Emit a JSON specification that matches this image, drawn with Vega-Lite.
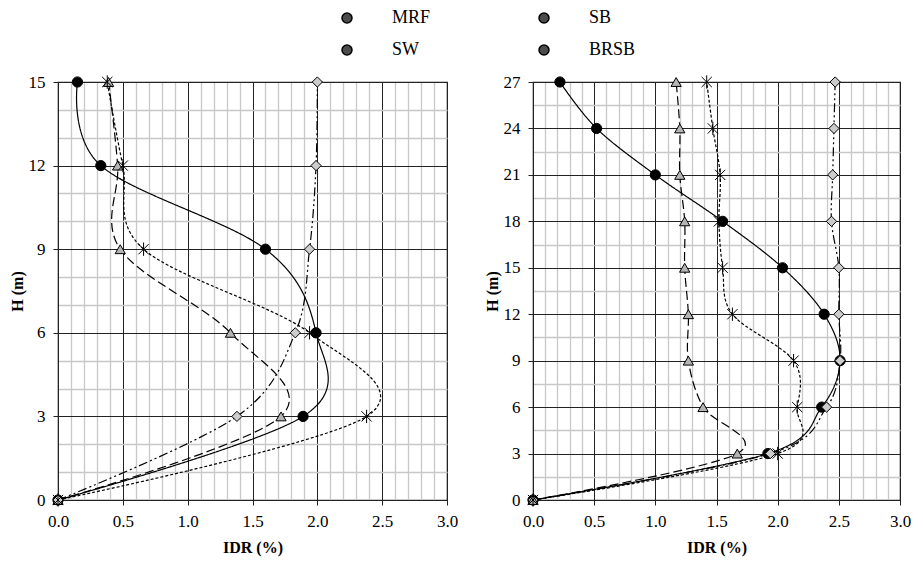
{
  "$schema": "https://vega.github.io/schema/vega-lite/v6.json",
  "padding": {"left": 8, "top": 9, "right": 5, "bottom": 5},
  "config": {
    "font": "Liberation Serif",
    "view": {"stroke": "#222", "strokeWidth": 1.2},
    "axis": {
      "labelFont": "Liberation Serif",
      "labelFontSize": 17,
      "labelColor": "black",
      "titleFont": "Liberation Serif",
      "titleFontSize": 16,
      "titleFontWeight": "bold",
      "titleColor": "black",
      "domainColor": "#222",
      "tickColor": "#222",
      "labelOverlap": false,
      "labelFlush": false,
      "labelBound": false
    },
    "legend": {"labelFont": "Liberation Serif", "labelFontSize": 18, "labelColor": "black"}
  },
  "datasets": {
    "d": [
      {"panel": "L", "series": "MRF", "h": 0, "idr": 0},
      {"panel": "L", "series": "MRF", "h": 3, "idr": 1.89},
      {"panel": "L", "series": "MRF", "h": 6, "idr": 1.99},
      {"panel": "L", "series": "MRF", "h": 9, "idr": 1.6},
      {"panel": "L", "series": "MRF", "h": 12, "idr": 0.33},
      {"panel": "L", "series": "MRF", "h": 15, "idr": 0.15},
      {"panel": "L", "series": "SB", "h": 0, "idr": 0},
      {"panel": "L", "series": "SB", "h": 3, "idr": 1.72},
      {"panel": "L", "series": "SB", "h": 6, "idr": 1.33},
      {"panel": "L", "series": "SB", "h": 9, "idr": 0.48},
      {"panel": "L", "series": "SB", "h": 12, "idr": 0.46},
      {"panel": "L", "series": "SB", "h": 15, "idr": 0.39},
      {"panel": "L", "series": "SW", "h": 0, "idr": 0},
      {"panel": "L", "series": "SW", "h": 3, "idr": 1.38},
      {"panel": "L", "series": "SW", "h": 6, "idr": 1.83},
      {"panel": "L", "series": "SW", "h": 9, "idr": 1.94},
      {"panel": "L", "series": "SW", "h": 12, "idr": 1.99},
      {"panel": "L", "series": "SW", "h": 15, "idr": 2.0},
      {"panel": "L", "series": "BRSB", "h": 0, "idr": 0},
      {"panel": "L", "series": "BRSB", "h": 3, "idr": 2.38},
      {"panel": "L", "series": "BRSB", "h": 6, "idr": 1.94},
      {"panel": "L", "series": "BRSB", "h": 9, "idr": 0.66},
      {"panel": "L", "series": "BRSB", "h": 12, "idr": 0.5},
      {"panel": "L", "series": "BRSB", "h": 15, "idr": 0.38},
      {"panel": "R", "series": "MRF", "h": 0, "idr": 0},
      {"panel": "R", "series": "MRF", "h": 3, "idr": 1.92},
      {"panel": "R", "series": "MRF", "h": 6, "idr": 2.36},
      {"panel": "R", "series": "MRF", "h": 9, "idr": 2.51},
      {"panel": "R", "series": "MRF", "h": 12, "idr": 2.38},
      {"panel": "R", "series": "MRF", "h": 15, "idr": 2.04},
      {"panel": "R", "series": "MRF", "h": 18, "idr": 1.55},
      {"panel": "R", "series": "MRF", "h": 21, "idr": 1.0},
      {"panel": "R", "series": "MRF", "h": 24, "idr": 0.52},
      {"panel": "R", "series": "MRF", "h": 27, "idr": 0.22},
      {"panel": "R", "series": "SW", "h": 0, "idr": 0},
      {"panel": "R", "series": "SW", "h": 3, "idr": 1.94},
      {"panel": "R", "series": "SW", "h": 6, "idr": 2.4},
      {"panel": "R", "series": "SW", "h": 9, "idr": 2.51},
      {"panel": "R", "series": "SW", "h": 12, "idr": 2.5},
      {"panel": "R", "series": "SW", "h": 15, "idr": 2.5},
      {"panel": "R", "series": "SW", "h": 18, "idr": 2.44},
      {"panel": "R", "series": "SW", "h": 21, "idr": 2.45},
      {"panel": "R", "series": "SW", "h": 24, "idr": 2.46},
      {"panel": "R", "series": "SW", "h": 27, "idr": 2.47},
      {"panel": "R", "series": "SB", "h": 0, "idr": 0},
      {"panel": "R", "series": "SB", "h": 3, "idr": 1.67},
      {"panel": "R", "series": "SB", "h": 6, "idr": 1.39},
      {"panel": "R", "series": "SB", "h": 9, "idr": 1.27},
      {"panel": "R", "series": "SB", "h": 12, "idr": 1.27},
      {"panel": "R", "series": "SB", "h": 15, "idr": 1.24},
      {"panel": "R", "series": "SB", "h": 18, "idr": 1.24},
      {"panel": "R", "series": "SB", "h": 21, "idr": 1.2},
      {"panel": "R", "series": "SB", "h": 24, "idr": 1.2},
      {"panel": "R", "series": "SB", "h": 27, "idr": 1.17},
      {"panel": "R", "series": "BRSB", "h": 0, "idr": 0},
      {"panel": "R", "series": "BRSB", "h": 3, "idr": 2.0},
      {"panel": "R", "series": "BRSB", "h": 6, "idr": 2.16},
      {"panel": "R", "series": "BRSB", "h": 9, "idr": 2.13},
      {"panel": "R", "series": "BRSB", "h": 12, "idr": 1.63},
      {"panel": "R", "series": "BRSB", "h": 15, "idr": 1.55},
      {"panel": "R", "series": "BRSB", "h": 18, "idr": 1.52},
      {"panel": "R", "series": "BRSB", "h": 21, "idr": 1.53},
      {"panel": "R", "series": "BRSB", "h": 24, "idr": 1.47},
      {"panel": "R", "series": "BRSB", "h": 27, "idr": 1.42}
    ]
  },
  "spacing": 24,
  "hconcat": [
    {
      "width": 389,
      "height": 418,
      "data": {"name": "d"},
      "transform": [{"filter": "datum.panel === 'L'"}],
      "encoding": {
        "x": {
          "field": "idr", "type": "quantitative",
          "scale": {"domain": [0, 3], "nice": false},
          "axis": {
            "title": "IDR (%)",
            "values": [0, 0.1, 0.2, 0.3, 0.4, 0.5, 0.6, 0.7, 0.8, 0.9, 1, 1.1, 1.2, 1.3, 1.4, 1.5, 1.6, 1.7, 1.8, 1.9, 2, 2.1, 2.2, 2.3, 2.4, 2.5, 2.6, 2.7, 2.8, 2.9, 3],
            "format": ".1f",
            "labelExpr": "abs(datum.value*2 - round(datum.value*2)) < 1e-6 ? datum.label : ''",
            "gridColor": {"condition": {"test": "abs(datum.value*2 - round(datum.value*2)) < 1e-6", "value": "#222"}, "value": "#c8c8c8"},
            "gridWidth": {"condition": {"test": "abs(datum.value*2 - round(datum.value*2)) < 1e-6", "value": 1}, "value": 1.3},
            "tickSize": {"condition": {"test": "abs(datum.value*2 - round(datum.value*2)) < 1e-6", "value": 5}, "value": 0},
            "labelPadding": 8,
            "titlePadding": 10
          }
        },
        "y": {
          "field": "h", "type": "quantitative",
          "scale": {"domain": [0, 15], "nice": false},
          "axis": {
            "title": "H (m)",
            "values": [0, 1, 2, 3, 4, 5, 6, 7, 8, 9, 10, 11, 12, 13, 14, 15],
            "labelExpr": "datum.value % 3 === 0 ? datum.label : ''",
            "gridColor": {"condition": {"test": "datum.value % 3 === 0", "value": "#222"}, "value": "#c8c8c8"},
            "gridWidth": {"condition": {"test": "datum.value % 3 === 0", "value": 1}, "value": 1.3},
            "tickSize": {"condition": {"test": "datum.value % 3 === 0", "value": 5}, "value": 0},
            "labelPadding": 8,
            "titlePadding": 3
          }
        }
      },
      "layer": [
        {
          "mark": {"type": "line", "interpolate": "cardinal", "color": "black", "strokeWidth": 1.2},
          "encoding": {
            "strokeDash": {"field": "series", "type": "nominal", "scale": {"domain": ["BRSB", "SW", "SB", "MRF"], "range": [[3, 2], [9, 3, 2, 3, 2, 3], [9, 4], [1, 0]]}, "legend": null},
            "order": {"field": "h", "type": "quantitative"}
          }
        },
        {
          "mark": {"type": "point", "filled": true, "stroke": "black", "strokeWidth": 1, "size": 105},
          "encoding": {
            "shape": {"field": "series", "type": "nominal", "scale": {"domain": ["BRSB", "SW", "SB", "MRF"], "range": ["M-1,-1L1,1M-1,1L1,-1M0,-1.3L0,1.3", "diamond", "triangle-up", "circle"]}, "legend": null},
            "fill": {"field": "series", "type": "nominal", "scale": {"domain": ["BRSB", "SW", "SB", "MRF"], "range": ["black", "#cccccc", "#b4b4b4", "black"]}, "legend": null},
            "opacity": {
              "field": "series", "type": "nominal",
              "scale": {"domain": ["MRF", "SB", "SW", "BRSB"], "range": [1, 1, 1, 1]},
              "legend": {
                "title": null, "orient": "none", "legendX": 280, "legendY": -73, "direction": "horizontal", "columns": 2, "columnPadding": 104, "rowPadding": 14, "symbolSize": 100, "labelOffset": 36, "padding": 0,
                "encode": {"symbols": {
                  "shape": {"value": {"expr": "datum.value === 'MRF' ? 'M-5.8,0L5.8,0M1.1,0L0.953,0.55L0.55,0.953L0,1.1L-0.55,0.953L-0.953,0.55L-1.1,0L-0.953,-0.55L-0.55,-0.953L0,-1.1L0.55,-0.953L0.953,-0.55Z' : datum.value === 'SB' ? 'M-5,0L-2.7,0M-1.8,0L-1,0M1,0L1.8,0M2.5,0L4.8,0M0,-0.95L0.95,0.7L-0.95,0.7Z' : datum.value === 'SW' ? 'M-5.4,0L-2.4,0M2.4,0L5.4,0M-1.1,0L0,-1.1L1.1,0L0,1.1Z' : 'M-5,0L-4.2,0M-3.5,0L-2.7,0M-2,0L-1.2,0M1.2,0L2,0M2.7,0L3.5,0M4.2,0L5,0M-1,-1L1,1M-1,1L1,-1M0,-1.2L0,1.2'"}},
                  "fill": {"value": {"expr": "datum.value === 'MRF' ? 'black' : datum.value === 'SB' ? '#b4b4b4' : datum.value === 'SW' ? 'white' : 'black'"}},
                  "stroke": {"value": "black"}, "strokeWidth": {"value": 1.3}, "strokeDash": {"value": [1, 0]}, "size": {"value": 100}
                }}
              }
            }
          }
        }
      ]
    },
    {
      "width": 367,
      "height": 418,
      "data": {"name": "d"},
      "transform": [{"filter": "datum.panel === 'R'"}],
      "encoding": {
        "x": {
          "field": "idr", "type": "quantitative",
          "scale": {"domain": [0, 3], "nice": false},
          "axis": {
            "title": "IDR (%)",
            "values": [0, 0.1, 0.2, 0.3, 0.4, 0.5, 0.6, 0.7, 0.8, 0.9, 1, 1.1, 1.2, 1.3, 1.4, 1.5, 1.6, 1.7, 1.8, 1.9, 2, 2.1, 2.2, 2.3, 2.4, 2.5, 2.6, 2.7, 2.8, 2.9, 3],
            "format": ".1f",
            "labelExpr": "abs(datum.value*2 - round(datum.value*2)) < 1e-6 ? datum.label : ''",
            "gridColor": {"condition": {"test": "abs(datum.value*2 - round(datum.value*2)) < 1e-6", "value": "#222"}, "value": "#c8c8c8"},
            "gridWidth": {"condition": {"test": "abs(datum.value*2 - round(datum.value*2)) < 1e-6", "value": 1}, "value": 1.3},
            "tickSize": {"condition": {"test": "abs(datum.value*2 - round(datum.value*2)) < 1e-6", "value": 5}, "value": 0},
            "labelPadding": 8,
            "titlePadding": 10
          }
        },
        "y": {
          "field": "h", "type": "quantitative",
          "scale": {"domain": [0, 27], "nice": false},
          "axis": {
            "title": "H (m)",
            "values": [0, 1.5, 3, 4.5, 6, 7.5, 9, 10.5, 12, 13.5, 15, 16.5, 18, 19.5, 21, 22.5, 24, 25.5, 27],
            "labelExpr": "datum.value % 3 === 0 ? datum.label : ''",
            "gridColor": {"condition": {"test": "datum.value % 3 === 0", "value": "#222"}, "value": "#c8c8c8"},
            "gridWidth": {"condition": {"test": "datum.value % 3 === 0", "value": 1}, "value": 1.3},
            "tickSize": {"condition": {"test": "datum.value % 3 === 0", "value": 5}, "value": 0},
            "labelPadding": 8,
            "titlePadding": 3
          }
        }
      },
      "layer": [
        {
          "mark": {"type": "line", "interpolate": "cardinal", "color": "black", "strokeWidth": 1.2},
          "encoding": {
            "strokeDash": {"field": "series", "type": "nominal", "scale": {"domain": ["BRSB", "SW", "SB", "MRF"], "range": [[3, 2], [9, 3, 2, 3, 2, 3], [9, 4], [1, 0]]}, "legend": null},
            "order": {"field": "h", "type": "quantitative"}
          }
        },
        {
          "mark": {"type": "point", "filled": true, "stroke": "black", "strokeWidth": 1, "opacity": 1, "size": 105},
          "encoding": {
            "shape": {"field": "series", "type": "nominal", "scale": {"domain": ["BRSB", "SW", "SB", "MRF"], "range": ["M-1,-1L1,1M-1,1L1,-1M0,-1.3L0,1.3", "diamond", "triangle-up", "circle"]}, "legend": null},
            "fill": {"field": "series", "type": "nominal", "scale": {"domain": ["BRSB", "SW", "SB", "MRF"], "range": ["black", "#cccccc", "#b4b4b4", "black"]}, "legend": null}
          }
        }
      ]
    }
  ]
}
